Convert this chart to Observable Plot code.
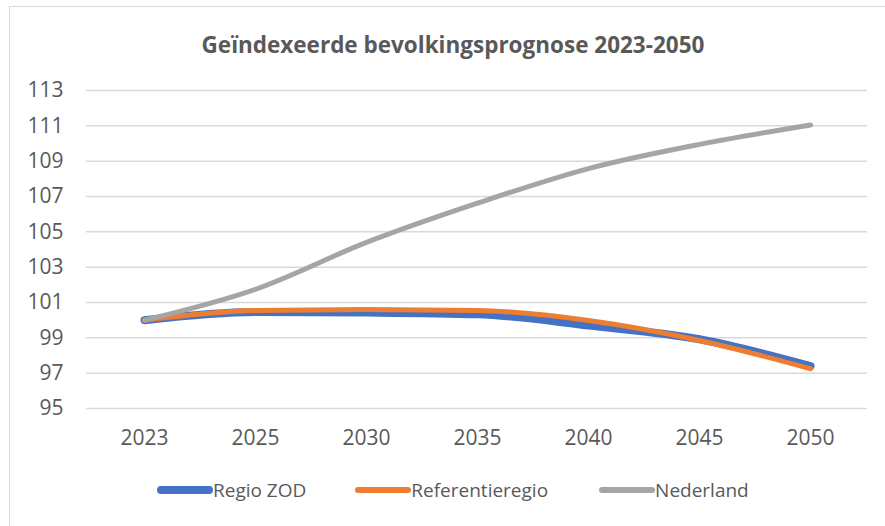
<!DOCTYPE html>
<html>
<head>
<meta charset="utf-8">
<script src="https://cdn.jsdelivr.net/npm/d3@7"></script>
<script src="https://cdn.jsdelivr.net/npm/@observablehq/plot@0.6"></script>
<style>
  html, body { margin: 0; padding: 0; background: #fff; }
  body { width: 885px; height: 526px; position: relative; overflow: hidden; font-family: "Open Sans", sans-serif; color: #595959; }
  #frame { position: absolute; left: 9px; top: 6px; width: 890px; height: 540px; border: 1.5px solid #d9d9d9; box-sizing: border-box; }
  #title { position: absolute; left: 0; width: 906px; top: 30px; text-align: center; font-weight: bold; font-size: 22.5px; line-height: 30px; }
  #chart { position: absolute; left: 0; top: 0; }
  #legend { position: absolute; left: 157px; top: 476px; display: flex; align-items: center; font-size: 19px; line-height: 28px; }
  .item { display: flex; align-items: center; }
  .sw { width: 56px; border-radius: 4px; }
</style>
</head>
<body>
<div id="frame"></div>
<div id="title">Geïndexeerde bevolkingsprognose 2023-2050</div>
<div id="chart"></div>
<div id="legend"></div>
<script>
const years = ["2023", "2025", "2030", "2035", "2040", "2045", "2050"];
const regioZOD = [100.0, 100.46, 100.43, 100.33, 99.70, 98.92, 97.40];
const referentieregio = [100.0, 100.55, 100.60, 100.55, 99.98, 98.85, 97.25];
const nederland = [100.0, 101.75, 104.40, 106.62, 108.58, 109.95, 111.05];
const yTicks = [95, 97, 99, 101, 103, 105, 107, 109, 111, 113];

const seriesNames = ["Regio ZOD", "Referentieregio", "Nederland"];
const seriesColors = ["#4472C4", "#ED7D31", "#A5A5A5"];
const seriesWidths = [8, 5, 5];
const seriesValues = [regioZOD, referentieregio, nederland];

const rows = seriesValues.map((vals) => years.map((yr, i) => ({year: yr, value: vals[i]})));

const W = 885, H = 526;
const plotLeft = 86, plotRight = 867, plotTop = 90, plotBottom = 408;

const plot = Plot.plot({
  width: W,
  height: H,
  marginLeft: plotLeft,
  marginRight: W - plotRight,
  marginTop: plotTop,
  marginBottom: H - plotBottom,
  style: {fontFamily: "Open Sans, sans-serif", fontSize: "21px", color: "#595959", background: "transparent", overflow: "visible"},
  x: {type: "point", domain: years, padding: 0.5, label: null},
  y: {domain: [95, 113], ticks: yTicks, label: null},
  marks: [
    Plot.gridY(yTicks, {stroke: "#d9d9d9", strokeOpacity: 1, strokeWidth: 1.5}),
    Plot.axisY(yTicks, {tickSize: 0, tickPadding: 23, label: null, fill: "#595959", fontSize: 21}),
    Plot.axisX(years, {tickSize: 0, tickPadding: 22, label: null, fill: "#595959", fontSize: 21}),
    ...rows.map((data, k) => Plot.line(data, {
      x: "year", y: "value", stroke: seriesColors[k], strokeWidth: seriesWidths[k],
      curve: "monotone-x", strokeLinecap: "round", strokeLinejoin: "round"
    }))
  ]
});
document.getElementById("chart").appendChild(plot);

const legend = document.getElementById("legend");
const gaps = [49, 51, 0];
seriesNames.forEach((name, k) => {
  const item = document.createElement("div");
  item.className = "item";
  item.style.marginRight = gaps[k] + "px";
  const sw = document.createElement("div");
  sw.className = "sw";
  sw.style.height = (k === 0 ? 8 : 6) + "px";
  sw.style.background = seriesColors[k];
  const t = document.createElement("span");
  t.textContent = name;
  item.appendChild(sw);
  item.appendChild(t);
  legend.appendChild(item);
});
</script>
</body>
</html>
